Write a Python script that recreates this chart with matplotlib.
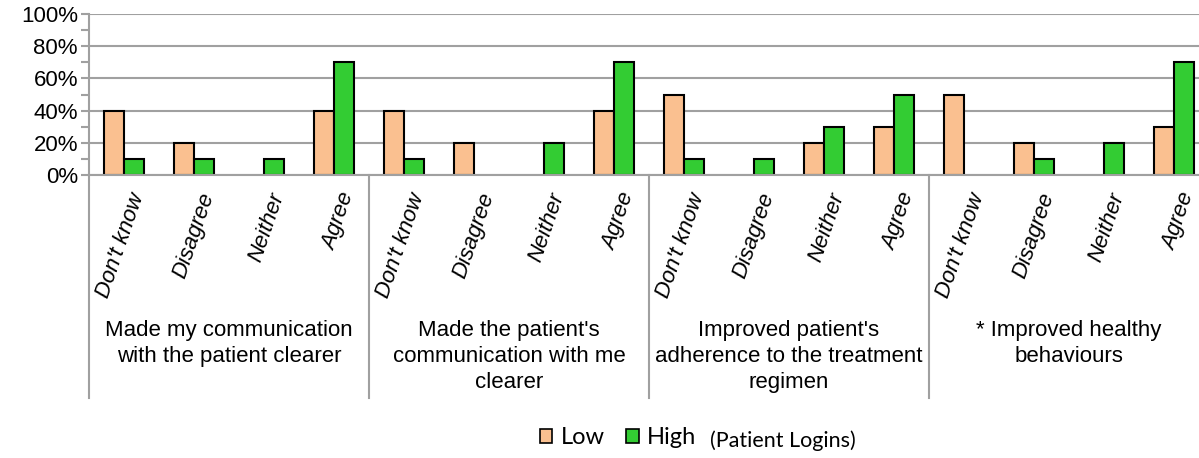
import numpy as np
import matplotlib.pyplot as plt
import matplotlib.transforms as mtransforms
from matplotlib.patches import Patch

plt.rcParams['font.family'] = ['Liberation Sans', 'DejaVu Sans']

answers = ["Don't know", "Disagree", "Neither", "Agree"]
groups = [
    "Made my communication\nwith the patient clearer",
    "Made the patient's\ncommunication with me\nclearer",
    "Improved patient's\nadherence to the treatment\nregimen",
    "* Improved healthy\nbehaviours",
]
low = [40, 20, 0, 40,
       40, 20, 0, 40,
       50, 0, 20, 30,
       50, 20, 0, 30]
high = [10, 10, 10, 70,
        10, 0, 20, 70,
        10, 10, 30, 50,
        0, 10, 20, 70]

LOW_COLOR = "#FAC090"
HIGH_COLOR = "#33CC33"
GRID = "#A0A0A0"

fig = plt.figure(figsize=(11.99, 4.58), dpi=100)
W, H = 1199, 458
# axes runs past the right edge, like the cropped original
ax = fig.add_axes([89 / W, (H - 175) / H, 1120 / W, 161 / H])

n = len(low)
x = np.arange(n)
bw = 0.2857

# zero bars get no outline so they vanish like in the original
low_edges = ["black" if v > 0 else "none" for v in low]
high_edges = ["black" if v > 0 else "none" for v in high]
ax.bar(x - bw / 2, low, bw, color=LOW_COLOR, edgecolor=low_edges, linewidth=1.5, zorder=3)
ax.bar(x + bw / 2, high, bw, color=HIGH_COLOR, edgecolor=high_edges, linewidth=1.5, zorder=3)

ax.set_xlim(-0.5, n - 0.5)
ax.set_ylim(0, 100)
ax.set_yticks(range(0, 101, 20))
ax.set_yticks(range(10, 100, 20), minor=True)
ax.set_yticklabels([f"{v}%" for v in range(0, 101, 20)], fontsize=16)
ax.yaxis.grid(True, color=GRID, linewidth=1.5, zorder=0)
ax.tick_params(axis="y", which="both", length=6, width=1.5, color=GRID, pad=2)
ax.set_xticks([])

for side in ["top", "right"]:
    ax.spines[side].set_visible(False)
ax.spines["left"].set_color(GRID)
ax.spines["left"].set_linewidth(1.5)
ax.spines["bottom"].set_color(GRID)
ax.spines["bottom"].set_linewidth(1.5)
ax.spines["bottom"].set_zorder(4)

# rotated answer labels
trans = mtransforms.blended_transform_factory(ax.transData, ax.transAxes)
for i in range(n):
    ax.text(i + 0.2, -0.115, answers[i % 4], transform=trans, rotation=71,
            rotation_mode="anchor", ha="right", va="center",
            fontsize=16, style="italic")

# group separators and group labels
for g in range(len(groups) + 1):
    xb = g * 4 - 0.5
    ax.plot([xb, xb], [0, -223 / 161], transform=trans, color=GRID,
            linewidth=1.5, clip_on=False)
for g, name in enumerate(groups):
    ax.text(g * 4 + 1.5, -(320 - 175) / 161, name, transform=trans,
            ha="center", va="top", fontsize=16, linespacing=1.3)

handles = [Patch(facecolor=LOW_COLOR, edgecolor="black", linewidth=1.2),
           Patch(facecolor=HIGH_COLOR, edgecolor="black", linewidth=1.2)]
fig.legend(handles, ["Low", "High"], loc="center", bbox_to_anchor=(618 / W, (H - 438) / H),
           ncol=2, frameon=False, handlelength=0.55, handleheight=0.55,
           handletextpad=0.35, columnspacing=0.9, prop={"family": "Lato", "size": 17})
fig.text(710 / W, (H - 441) / H, "(Patient Logins)", fontsize=15.5, family="Lato",
         ha="left", va="center")

fig.savefig("out.png", dpi=100)
